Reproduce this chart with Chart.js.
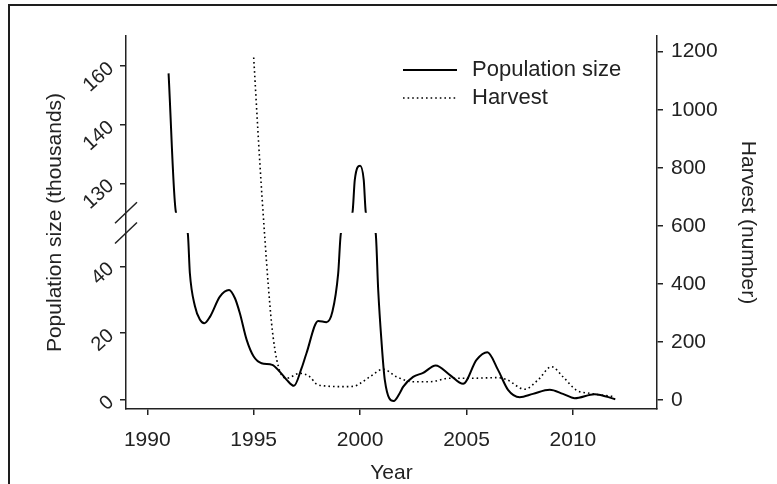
<!DOCTYPE html>
<html>
<head>
<meta charset="utf-8">
<script src="https://cdn.jsdelivr.net/npm/chart.js@4.4.1/dist/chart.umd.min.js"></script>
<style>
  body { margin: 0; background: #fff; }
  #wrap { position: relative; width: 777px; height: 484px; overflow: hidden; }
  #frame {
    position: absolute; left: 8px; top: 4px; right: -10px; bottom: -10px;
    border-left: 2px solid #1e1e1e; border-top: 2px solid #1e1e1e;
    pointer-events: none;
  }
</style>
</head>
<body>
<div id="wrap">
  <canvas id="chart" width="777" height="484"></canvas>
  <div id="frame"></div>
</div>
<script>
// population size (thousands)
const popYears = [
  1991.0, 1991.35, 1991.9, 1992.0, 1992.24, 1992.47, 1992.68, 1992.95, 1993.41,
  1993.84, 1994.12, 1994.35, 1994.67, 1995.0, 1995.37, 1995.87, 1996.23, 1996.55,
  1996.89, 1997.25, 1997.48, 1998.03, 1998.42, 1998.7, 1998.97, 1999.1, 1999.64,
  1999.75, 2000.0, 2000.17, 2000.27, 2000.73, 2000.85, 2001.0, 2001.16, 2001.58,
  2001.86, 2002.02, 2002.49, 2002.96, 2003.55, 2004.21, 2004.84, 2005.47, 2005.98,
  2006.48, 2006.95, 2007.5, 2008.12, 2008.91, 2009.53, 2010.08, 2011.02, 2011.99
];
const popValues = [
  157.5, 125, 50, 38, 28, 24, 22.9, 24.9, 30.9,
  32.9, 30.4, 25.9, 17.9, 12.9, 10.9, 10.4, 8.3, 5.9,
  4.1, 9.4, 13.9, 23.6, 23.2, 26.4, 37.9, 50, 125,
  130.6, 133, 130.6, 125, 50, 32.9, 17.9, 5.9, -0.45,
  1.9, 3.8, 6.8, 8.0, 10.2, 7.4, 4.7, 11.9, 14.2,
  8.9, 2.9, 0.7, 1.7, 2.9, 1.7, 0.4, 1.6, 0.1
];

// harvest (number)
const harvestYears = [
  1995.0, 1995.29, 1995.53, 1995.68, 1995.84, 1996.0, 1996.16, 1996.31, 1996.55,
  1997.17, 1997.64, 1997.95, 1998.42, 1999.2, 1999.7, 2000.0, 2000.46, 2001.09,
  2001.71, 2002.49, 2003.27, 2004.21, 2005.3, 2006.4, 2006.87, 2007.73, 2008.36,
  2008.99, 2009.53, 2010.16, 2010.78, 2011.89
];
const harvestValues = [
  1180, 815, 551, 400, 264, 172, 115, 86, 75,
  92, 80, 55, 48, 46, 47, 57, 80, 106,
  80, 63, 63, 75, 75, 77, 71, 37, 69,
  115, 80, 34, 23, 12
];

const yearTicks = [1990, 1995, 2000, 2005, 2010];
const popTicks = [0, 20, 40, 130, 140, 160];
const harvestTicks = [0, 200, 400, 600, 800, 1000, 1200];

// broken left axis: value -> share of axis height
const breakValues = [-2.85, 50, 125, 130, 140, 160, 170.2];
const breakShares = [0, 0.4718, 0.5263, 0.6051, 0.7622, 0.9196, 1];

function interp(v, xs, ys) {
  if (isNaN(v)) return NaN;
  let i = 1;
  while (i < xs.length - 1 && v > xs[i]) i++;
  const t = (v - xs[i - 1]) / (xs[i] - xs[i - 1]);
  return ys[i - 1] + t * (ys[i] - ys[i - 1]);
}

class BrokenScale extends Chart.LinearScale {
  static id = "broken";
  static defaults = {};
  getPixelForValue(value) {
    const s = interp(value, breakValues, breakShares);
    return this.bottom - s * (this.bottom - this.top);
  }
  getValueForPixel(pixel) {
    const s = (this.bottom - pixel) / (this.bottom - this.top);
    return interp(s, breakShares, breakValues);
  }
}
Chart.register(BrokenScale);

const ink = "#222";
const font = { family: "'Liberation Sans', Arial, sans-serif", size: 21 };

// hide the solid line inside the axis break
const gapClip = {
  id: "gapClip",
  beforeDatasetDraw(chart, args) {
    if (args.index !== 0) return;
    const a = chart.chartArea;
    const y = chart.scales.y;
    const top = y.getPixelForValue(125);
    const bottom = y.getPixelForValue(50);
    const ctx = chart.ctx;
    ctx.save();
    ctx.beginPath();
    ctx.rect(a.left - 5, a.top - 5, a.right - a.left + 10, top - a.top + 5);
    ctx.rect(a.left - 5, bottom, a.right - a.left + 10, a.bottom - bottom + 5);
    ctx.clip();
  },
  afterDatasetDraw(chart, args) {
    if (args.index === 0) chart.ctx.restore();
  },
};

// break marks on the left axis and the legend
const extras = {
  id: "extras",
  afterDraw(chart) {
    const ctx = chart.ctx;
    const y = chart.scales.y;
    const ax = chart.chartArea.left;
    ctx.save();
    ctx.strokeStyle = ink;
    ctx.lineWidth = 1.5;
    [y.getPixelForValue(125), y.getPixelForValue(50)].forEach((py) => {
      ctx.beginPath();
      ctx.moveTo(ax - 11, py + 10.5);
      ctx.lineTo(ax + 11, py - 10.5);
      ctx.stroke();
    });

    const lx = ax + 277;
    const ly = chart.chartArea.top + 34;
    ctx.strokeStyle = "#000";
    ctx.lineWidth = 2;
    ctx.beginPath();
    ctx.moveTo(lx, ly);
    ctx.lineTo(lx + 54, ly);
    ctx.stroke();
    ctx.lineWidth = 1.6;
    ctx.setLineDash([1.6, 3]);
    ctx.beginPath();
    ctx.moveTo(lx, ly + 28);
    ctx.lineTo(lx + 54, ly + 28);
    ctx.stroke();
    ctx.setLineDash([]);
    ctx.fillStyle = ink;
    ctx.font = "22px 'Liberation Sans', Arial, sans-serif";
    ctx.textBaseline = "middle";
    ctx.fillText("Population size", lx + 69, ly);
    ctx.fillText("Harvest", lx + 69, ly + 28);
    ctx.restore();
  },
};

const grid = {
  display: true,
  drawOnChartArea: false,
  drawTicks: true,
  tickLength: 6,
  color: ink,
  lineWidth: 1.5,
};
const border = { display: true, color: ink, width: 1.5 };

new Chart(document.getElementById("chart"), {
  type: "line",
  data: {
    datasets: [
      {
        label: "Population size",
        data: popYears.map((x, i) => ({ x: x, y: popValues[i] })),
        yAxisID: "y",
        borderColor: "#000",
        borderWidth: 2,
        pointRadius: 0,
        cubicInterpolationMode: "monotone",
        fill: false,
      },
      {
        label: "Harvest",
        data: harvestYears.map((x, i) => ({ x: x, y: harvestValues[i] })),
        yAxisID: "y1",
        borderColor: "#000",
        borderWidth: 1.6,
        borderDash: [1.6, 3],
        pointRadius: 0,
        cubicInterpolationMode: "monotone",
        fill: false,
      },
    ],
  },
  options: {
    responsive: false,
    animation: false,
    devicePixelRatio: 1,
    layout: { padding: { top: 36, left: 0, right: 0, bottom: 0 } },
    plugins: { legend: { display: false }, tooltip: { enabled: false } },
    scales: {
      x: {
        type: "linear",
        position: "bottom",
        min: 1989,
        max: 2013.95,
        afterBuildTicks: (s) => { s.ticks = yearTicks.map((v) => ({ value: v })); },
        afterFit: (s) => { s.height = 75; },
        grid: grid,
        border: border,
        ticks: { color: ink, font: font, padding: 13, maxRotation: 0, callback: (v) => String(v) },
        title: { display: true, text: "Year", color: ink, font: { ...font, lineHeight: 1 }, padding: { top: 0, bottom: 0 } },
      },
      y: {
        type: "broken",
        position: "left",
        min: -2.85,
        max: 170.2,
        afterBuildTicks: (s) => { s.ticks = popTicks.map((v) => ({ value: v })); },
        afterFit: (s) => { s.width = 126; },
        grid: grid,
        border: border,
        ticks: { color: ink, font: { ...font, size: 20 }, padding: 9, minRotation: 42, maxRotation: 42, callback: (v) => String(v) },
        title: { display: true, text: "Population size (thousands)", color: ink, font: { ...font, lineHeight: 1 }, padding: { top: 45, bottom: 0 } },
      },
      y1: {
        type: "linear",
        position: "right",
        min: -31,
        max: 1254,
        afterBuildTicks: (s) => { s.ticks = harvestTicks.map((v) => ({ value: v })); },
        afterFit: (s) => { s.width = 120; },
        grid: grid,
        border: border,
        ticks: { color: ink, font: font, padding: 8, callback: (v) => String(v) },
        title: { display: true, text: "Harvest (number)", color: ink, font: { ...font, lineHeight: 1 }, padding: { top: 19, bottom: 0 } },
      },
    },
  },
  plugins: [gapClip, extras],
});
</script>
</body>
</html>
